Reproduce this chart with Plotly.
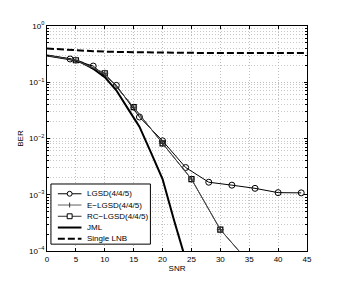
import plotly.graph_objects as go

# ---------------- data ----------------
snr_lgsd = [0, 4, 8, 12, 16, 20, 24, 28, 32, 36, 40, 44]
ber_lgsd = [0.30, 0.259, 0.194, 0.088, 0.0241, 0.0091, 0.00305, 0.00167,
            0.00148, 0.0013, 0.00109, 0.00108]

snr_elgsd = [0, 5, 10, 15, 20, 25, 30, 35]
ber_elgsd = [0.30, 0.246, 0.1445, 0.036, 0.0082, 0.0019, 0.00024, 0.000062]

snr_rclgsd = [0, 5, 10, 15, 20, 25, 30, 35]
ber_rclgsd = [0.30, 0.246, 0.1445, 0.036, 0.0082, 0.0019, 0.00024, 0.000062]

snr_jml = [0, 2, 4, 6, 8, 10, 12, 14, 16, 18, 20, 22, 24]
ber_jml = [0.30, 0.28, 0.257, 0.224, 0.174, 0.123, 0.072, 0.034, 0.0162,
           0.0056, 0.0019, 0.00035, 0.00007]

snr_lnb = [0, 4, 8, 12, 16, 21, 25, 30, 35, 40, 45]
ber_lnb = [0.398, 0.372, 0.356, 0.346, 0.340, 0.335, 0.333, 0.332, 0.331,
           0.331, 0.330]

legend_names = ["LGSD(4/4/5)", "E\u2212LGSD(4/4/5)", "RC\u2212LGSD(4/4/5)",
                "JML", "Single LNB"]
x_ticks = [0, 5, 10, 15, 20, 25, 30, 35, 40, 45]
y_exps = [0, -1, -2, -3, -4]

# ---------------- layout constants ----------------
OFF = 8                      # default page body margin
W, H = 339 - OFF, 283 - OFF
ML, MR, MT, MB = 43 - OFF, 32, 21 - OFF, 32
PW, PH = W - ML - MR, H - MT - MB
FONT = "Liberation Sans, Arial, Helvetica, sans-serif"
GRID = dict(showgrid=True, gridcolor="#bdbdbd", griddash="1px,2px", gridwidth=1)


def px(x):  # page pixel -> paper
    return (x - OFF - ML) / PW


def py(y):
    return (H - MB - (y - OFF)) / PH


def first_hidden(n):
    return [0] + [1] * (n - 1)


fig = go.Figure()

fig.add_trace(go.Scatter(
    x=snr_lnb, y=ber_lnb, mode="lines",
    line=dict(color="black", width=2, dash="7px,3px"), showlegend=False))

fig.add_trace(go.Scatter(
    x=snr_jml, y=ber_jml, mode="lines",
    line=dict(color="black", width=2), showlegend=False))

fig.add_trace(go.Scatter(
    x=snr_lgsd, y=ber_lgsd, mode="lines+markers",
    line=dict(color="black", width=1),
    marker=dict(symbol="circle-open", size=6, color="black",
                line=dict(width=1, color="black"),
                opacity=first_hidden(len(snr_lgsd))),
    showlegend=False))

fig.add_trace(go.Scatter(
    x=snr_rclgsd, y=ber_rclgsd, mode="lines+markers",
    line=dict(color="black", width=1),
    marker=dict(symbol="square-open", size=5, color="black",
                line=dict(width=1.2, color="black"),
                opacity=first_hidden(len(snr_rclgsd))),
    showlegend=False))

fig.add_trace(go.Scatter(
    x=snr_elgsd, y=ber_elgsd, mode="lines+markers",
    line=dict(color="#606060", width=0.8),
    marker=dict(symbol="cross-thin", size=5, color="#303030",
                line=dict(width=1, color="#303030"),
                opacity=first_hidden(len(snr_elgsd))),
    showlegend=False))

# ---------------- manual legend (MATLAB style) ----------------
shapes = []
annotations = []
box = (47, 182.5, 148, 244)
shapes.append(dict(type="rect", xref="paper", yref="paper",
                   x0=px(box[0]), x1=px(box[2]), y0=py(box[3]), y1=py(box[1]),
                   line=dict(color="black", width=1), fillcolor="white",
                   layer="above"))
rows = [192.5, 204, 215.5, 227, 238.5]
lx0, lx1, lxm, tx = 54, 78, 66, 82
line_styles = [
    dict(color="black", width=1),
    dict(color="#606060", width=1),
    dict(color="#303030", width=1),
    dict(color="black", width=2),
    dict(color="black", width=2, dash="7px,3px"),
]
for i, (yy, st) in enumerate(zip(rows, line_styles)):
    shapes.append(dict(type="line", xref="paper", yref="paper",
                       x0=px(lx0), x1=px(lx1), y0=py(yy), y1=py(yy),
                       line=st, layer="above"))
    annotations.append(dict(text=legend_names[i], xref="paper", yref="paper",
                            x=px(tx), y=py(yy), xanchor="left", yanchor="middle",
                            showarrow=False, font=dict(size=8, color="black",
                                                       family=FONT)))
r = 2.5
shapes.append(dict(type="circle", xref="paper", yref="paper",
                   x0=px(lxm - r), x1=px(lxm + r), y0=py(rows[0] + r),
                   y1=py(rows[0] - r), line=dict(color="black", width=1),
                   fillcolor="white", layer="above"))
shapes.append(dict(type="line", xref="paper", yref="paper",
                   x0=px(lxm), x1=px(lxm), y0=py(rows[1] + r), y1=py(rows[1] - r),
                   line=dict(color="#303030", width=1), layer="above"))
shapes.append(dict(type="rect", xref="paper", yref="paper",
                   x0=px(lxm - r), x1=px(lxm + r), y0=py(rows[2] + r),
                   y1=py(rows[2] - r), line=dict(color="black", width=1),
                   fillcolor="white", layer="above"))

fig.update_layout(
    width=W, height=H,
    margin=dict(l=ML, r=MR, t=MT, b=MB, pad=0),
    paper_bgcolor="white", plot_bgcolor="white",
    font=dict(family=FONT, size=8, color="black"),
    showlegend=False,
    shapes=shapes, annotations=annotations,
    xaxis=dict(
        range=[0, 45], tickmode="array", tickvals=x_ticks,
        ticks="inside", ticklen=3, tickcolor="black",
        showline=True, linecolor="black", linewidth=1, mirror="ticks",
        zeroline=False, tickfont=dict(size=8),
        title=dict(text="SNR", font=dict(size=8), standoff=2),
        **GRID,
    ),
    yaxis=dict(
        type="log", range=[-4, 0], tickmode="array",
        tickvals=[10.0 ** e for e in y_exps],
        ticktext=["10<sup>%s</sup>" % (str(e).replace("-", "\u2212")) for e in y_exps],
        ticks="inside", ticklen=3, tickcolor="black",
        showline=True, linecolor="black", linewidth=1, mirror="ticks",
        zeroline=False, tickfont=dict(size=8),
        minor=dict(tickmode="array",
                   tickvals=[m * 10.0 ** e for e in range(-4, 0) for m in range(2, 10)],
                   ticks="inside", ticklen=2, tickcolor="black",
                   showgrid=True, gridcolor="#c8c8c8", griddash="1px,2px",
                   gridwidth=1),
        title=dict(text="BER", font=dict(size=8), standoff=4),
        **GRID,
    ),
)

fig.write_html("out.html")
